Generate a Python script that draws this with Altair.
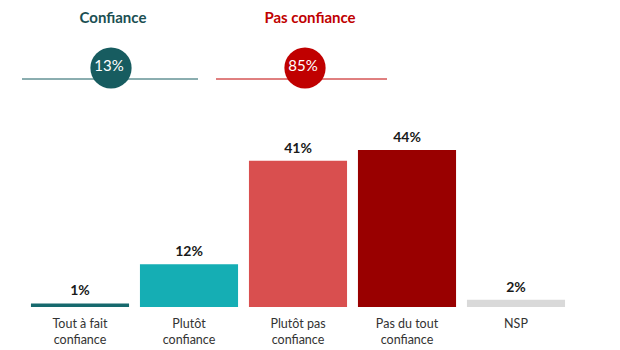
import altair as alt
import pandas as pd

categories = ["Tout à fait confiance", "Plutôt confiance", "Plutôt pas confiance",
              "Pas du tout confiance", "NSP"]
values = [1, 12, 41, 44, 2]
bar_colors = ["#16696d", "#15aeb4", "#d94f4f", "#990000", "#d9d9d9"]

groups = ["Confiance", "Pas confiance"]
group_totals = [13, 85]
group_colors = ["#1b4f52", "#c00000"]
bubble_colors = ["#175c60", "#c00000"]

df = pd.DataFrame({"cat": categories, "val": values,
                   "label": [f"{v}%" for v in values]})
gdf = pd.DataFrame({"group": groups, "total": group_totals,
                    "tlabel": [f"{v}%" for v in group_totals]})

FONT = "Lato"
PAD_L = 25.5

x_enc = alt.X("cat:N", sort=categories,
              scale=alt.Scale(paddingInner=0.1, paddingOuter=0.05), axis=None)
y_enc = alt.Y("val:Q", scale=alt.Scale(domain=[0, 86], nice=False), axis=None)

base = alt.Chart(df)
bars = base.mark_bar().encode(
    x=x_enc, y=y_enc,
    color=alt.Color("cat:N", sort=categories,
                    scale=alt.Scale(domain=categories, range=bar_colors), legend=None))
labels = base.mark_text(baseline="bottom", dy=-5, font=FONT, fontSize=14,
                        fontWeight="bold", color="#1a1a1a").encode(
    x=alt.X("cat:N", sort=categories), y=y_enc, text="label:N")

# category labels split into two lines (last word on the second line)
cat_lines = base.transform_calculate(
    sp="lastindexof(datum.cat, ' ')",
).transform_calculate(
    l1="datum.sp > 0 ? slice(datum.cat, 0, datum.sp) : datum.cat",
    l2="datum.sp > 0 ? slice(datum.cat, datum.sp + 1) : ''",
)
line1 = cat_lines.mark_text(font=FONT, fontSize=12.5, color="#333333", baseline="middle").encode(
    x=alt.X("cat:N", sort=categories), y=alt.value(324), text="l1:N")
line2 = cat_lines.mark_text(font=FONT, fontSize=12.5, color="#333333", baseline="middle").encode(
    x=alt.X("cat:N", sort=categories), y=alt.value(340), text="l2:N")

layers = [bars, labels, line1, line2]

# header decoration layout (absolute pixel positions, converted to plot coords)
title_x = [113, 310]
bubble_x = [111, 305]
line_x = [(22, 198), (216, 387)]
for i, g in enumerate(groups):
    gc = alt.Chart(gdf).transform_filter(alt.datum.group == g)
    layers.append(gc.mark_rule(color=bubble_colors[i], strokeWidth=1).encode(
        x=alt.value(line_x[i][0] - PAD_L), x2=alt.value(line_x[i][1] - PAD_L),
        y=alt.value(79)))
    layers.append(gc.mark_point(shape="circle", filled=True, size=1700, opacity=1,
                                color=bubble_colors[i]).encode(
        x=alt.value(bubble_x[i] - PAD_L), y=alt.value(68)))
    layers.append(gc.mark_text(font=FONT, fontSize=15, color="white",
                               baseline="middle").encode(
        x=alt.value(bubble_x[i] - 2 - PAD_L), y=alt.value(66), text="tlabel:N"))
    layers.append(gc.mark_text(font=FONT, fontSize=15, fontWeight="bold",
                               color=group_colors[i], baseline="middle").encode(
        x=alt.value(title_x[i] - PAD_L), y=alt.value(18), text="group:N"))

chart = alt.layer(*layers).properties(
    width=545, height=307,
    padding={"left": PAD_L, "right": 620 - 545 - PAD_L, "top": 0, "bottom": 43},
    autosize=alt.AutoSizeParams(type="none"),
    background="white",
).configure_view(stroke=None)

chart.save("out.html", embed_options={"renderer": "svg", "actions": False})
